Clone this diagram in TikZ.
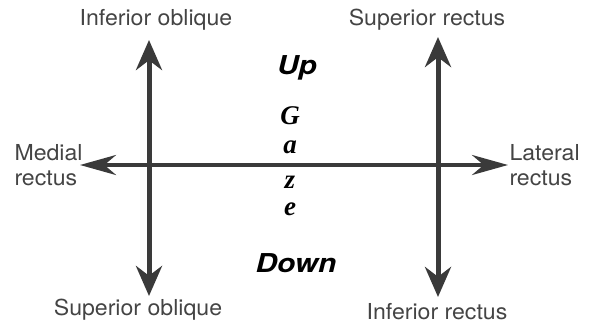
\documentclass[tikz,border=0pt]{standalone}
\usepackage{fontspec}
\setsansfont{TeX Gyre Heros}
\newfontfamily\gazefont{Liberation Serif}
\usetikzlibrary{arrows.meta, positioning}
\definecolor{ArrG} {HTML}{3A3A3A}
\definecolor{TxtG} {HTML}{444444}
\tikzset{
  musc/.style={
    font=\sffamily\fontsize{11}{12.5}\selectfont, text=TxtG,
    inner sep=1pt, xscale=1.05,
  },
  mside/.style={
    musc, align=left, anchor=west,
  },
  dir/.style={
    font=\sffamily\bfseries\itshape\fontsize{13}{14}\selectfont,
    text=black, inner sep=1pt, xscale=1.15,
  },
  gz/.style={
    font=\gazefont\bfseries\itshape\fontsize{13.5}{15}\selectfont,
    text=black, inner sep=0pt, text depth=0pt, text height=1ex,
  },
  varr/.style={
    {Stealth[length=15pt,width=13pt]}-{Stealth[length=15pt,width=13pt]},
    line width=2.5pt, color=ArrG,
  },
  harr/.style={
    {Stealth[length=18pt,width=10pt]}-{Stealth[length=18pt,width=10pt]},
    line width=2pt, color=ArrG,
  },
}
\begin{document}
\begin{tikzpicture}[x=0.5pt,y=-0.5pt]
  \useasboundingbox (0,0) rectangle (589,322);
  % arrow ends
  \coordinate (lt) at (149,40);
  \coordinate (lb) at (149,296);
  \coordinate (rt) at (438,37);
  \coordinate (rb) at (438,297);
  \coordinate (ml) at (80,165);
  \coordinate (mr) at (508,165);
  \draw[harr] (ml)--(mr);
  \draw[varr] (lb)--(lt);
  \draw[varr] (rb)--(rt);
  % muscle labels
  \node[musc] (io) at (156,20) {Inferior oblique};
  \node[musc] (sr) at (427,20) {Superior rectus};
  \node[musc] (so) at (138,310) {Superior oblique};
  \node[musc] (ir) at (437,312) {Inferior rectus};
  \node[mside] (med) at (12,165) {Medial\\rectus};
  \node[mside] (lat) at (507,165) {Lateral\\rectus};
  % gaze
  \node[dir] (up) at (297,68) {Up};
  \node[dir] (down) at (296,263) {Down};
  \node[gz, text height=1.5ex] (g1) at (290,118) {G};
  \node[gz] (g2) at (290,149) {a};
  \node[gz] (g3) at (290,184) {z};
  \node[gz] (g4) at (290,211) {e};
\end{tikzpicture}
\end{document}
